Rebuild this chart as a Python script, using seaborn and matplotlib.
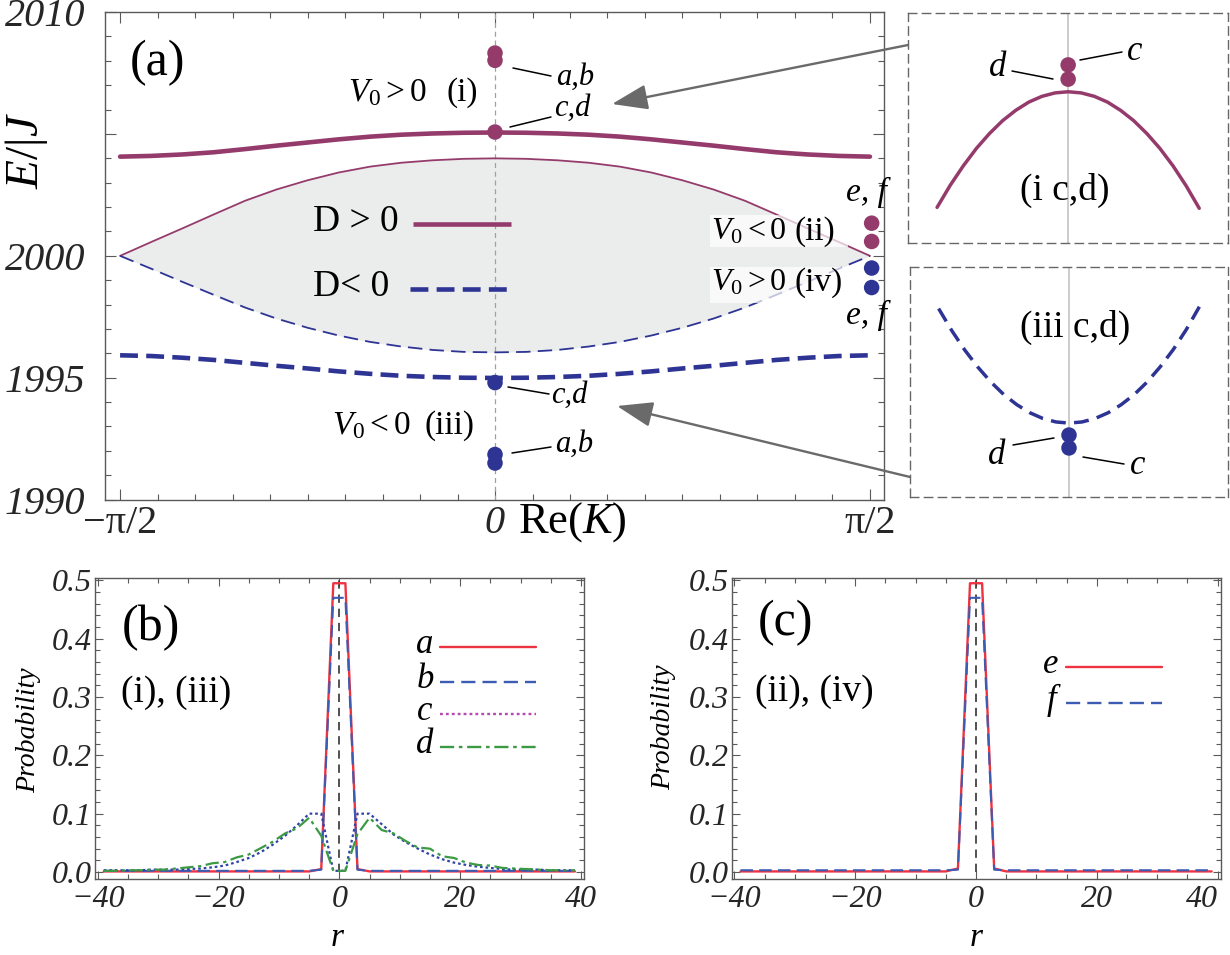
import numpy as np
import matplotlib
matplotlib.use("Agg")
import matplotlib.pyplot as plt
import seaborn as sns
from matplotlib.lines import Line2D
from matplotlib.patches import FancyArrowPatch, Rectangle
from matplotlib.ticker import MultipleLocator, FixedLocator

# ------------------------------------------------------------------ data
# panel (a): Re(K) grid in units of pi/24
K_STEPS = list(range(-12, 13))
THIN_UP = [2000.00, 2000.57, 2001.13, 2001.70, 2002.26, 2002.72, 2003.10, 2003.42, 2003.66,
           2003.82, 2003.92, 2003.98, 2004.00, 2003.98, 2003.92, 2003.82, 2003.66, 2003.42,
           2003.10, 2002.72, 2002.26, 2001.70, 2001.13, 2000.57, 2000.00]
THIN_LOW = [2000.00, 1999.47, 1998.93, 1998.40, 1997.88, 1997.43, 1997.05, 1996.73, 1996.47,
            1996.28, 1996.14, 1996.06, 1996.04, 1996.06, 1996.14, 1996.28, 1996.47, 1996.73,
            1997.05, 1997.43, 1997.88, 1998.40, 1998.93, 1999.47, 2000.00]
THICK_UP = [2004.07, 2004.10, 2004.16, 2004.25, 2004.38, 2004.52, 2004.65, 2004.78, 2004.89,
            2004.97, 2005.02, 2005.05, 2005.06, 2005.05, 2005.02, 2004.97, 2004.89, 2004.78,
            2004.65, 2004.52, 2004.38, 2004.25, 2004.16, 2004.10, 2004.07]
THICK_LOW = [1995.92, 1995.89, 1995.82, 1995.73, 1995.61, 1995.49, 1995.38, 1995.26, 1995.16,
             1995.08, 1995.03, 1995.00, 1994.99, 1995.00, 1995.03, 1995.08, 1995.16, 1995.26,
             1995.38, 1995.49, 1995.61, 1995.73, 1995.82, 1995.89, 1995.92]
AB_UP_E = [2008.32, 2008.02]
CD_UP_E = [2005.08]
CD_LOW_E = [1994.80]
AB_LOW_E = [1991.85, 1991.50]
EF_K = 1.578
EF_PURPLE_E = [2001.34, 2000.59]
EF_BLUE_E = [1999.50, 1998.70]
YTICKS_A = [1990, 1995, 2000, 2005, 2010]
YTICKLABELS_A = ["1990", "1995", "2000", "", "2010"]
XTICKLABELS_A = ["\u2212\u03c0/2", "0", "\u03c0/2"]

# insets (zoomed views around K = 0, local coordinates)
INSET_U = [-0.82, -0.738, -0.656, -0.574, -0.492, -0.41, -0.328, -0.246, -0.164, -0.082, 0.0,
           0.082, 0.164, 0.246, 0.328, 0.41, 0.492, 0.574, 0.656, 0.738, 0.82]
INSET_TOP_V = [0.154, 0.250, 0.335, 0.411, 0.476, 0.532, 0.577, 0.613, 0.638, 0.653, 0.658,
               0.653, 0.638, 0.613, 0.577, 0.532, 0.476, 0.411, 0.335, 0.248, 0.150]
INSET_BOT_V = [0.818, 0.723, 0.638, 0.564, 0.499, 0.444, 0.400, 0.365, 0.340, 0.325, 0.320,
               0.325, 0.340, 0.365, 0.400, 0.444, 0.499, 0.565, 0.640, 0.727, 0.826]
INSET_TOP_DOTS = [0.775, 0.713]   # c, d
INSET_BOT_DOTS = [0.268, 0.212]   # d, c

# panels (b), (c): relative coordinate r (odd sites)
R_SITES = list(range(-39, 40, 2))
PROB_A = [0.001, 0.001, 0.001, 0.001, 0.001, 0.001, 0.001, 0.001, 0.001, 0.001,
          0.001, 0.001, 0.001, 0.001, 0.001, 0.001, 0.001, 0.001, 0.005, 0.495,
          0.495, 0.005, 0.001, 0.001, 0.001, 0.001, 0.001, 0.001, 0.001, 0.001,
          0.001, 0.001, 0.001, 0.001, 0.001, 0.001, 0.001, 0.001, 0.001, 0.001]
PROB_B = [0.002, 0.002, 0.002, 0.002, 0.002, 0.002, 0.002, 0.002, 0.002, 0.002,
          0.002, 0.002, 0.002, 0.002, 0.002, 0.002, 0.002, 0.002, 0.004, 0.470,
          0.470, 0.004, 0.002, 0.002, 0.002, 0.002, 0.002, 0.002, 0.002, 0.002,
          0.002, 0.002, 0.002, 0.002, 0.002, 0.002, 0.002, 0.002, 0.002, 0.002]
PROB_C = [0.003, 0.003, 0.003, 0.003, 0.004, 0.004, 0.004, 0.005, 0.006, 0.008,
          0.011, 0.017, 0.024, 0.034, 0.047, 0.062, 0.080, 0.100, 0.100, 0.002,
          0.002, 0.100, 0.100, 0.082, 0.064, 0.051, 0.040, 0.030, 0.022, 0.016,
          0.012, 0.009, 0.007, 0.005, 0.004, 0.004, 0.004, 0.003, 0.003, 0.003]
PROB_D = [0.002, 0.002, 0.003, 0.003, 0.004, 0.004, 0.006, 0.008, 0.010, 0.015,
          0.017, 0.025, 0.030, 0.041, 0.052, 0.066, 0.075, 0.093, 0.062, 0.002,
          0.002, 0.065, 0.093, 0.072, 0.066, 0.053, 0.042, 0.040, 0.027, 0.024,
          0.016, 0.012, 0.011, 0.007, 0.006, 0.005, 0.004, 0.003, 0.003, 0.003]
PROB_E = [0.001, 0.001, 0.001, 0.001, 0.001, 0.001, 0.001, 0.001, 0.001, 0.001,
          0.001, 0.001, 0.001, 0.001, 0.001, 0.001, 0.001, 0.001, 0.006, 0.495,
          0.495, 0.006, 0.001, 0.001, 0.001, 0.001, 0.001, 0.001, 0.001, 0.001,
          0.001, 0.001, 0.001, 0.001, 0.001, 0.001, 0.001, 0.001, 0.001, 0.001]
PROB_F = [0.003, 0.003, 0.003, 0.003, 0.003, 0.003, 0.003, 0.003, 0.003, 0.003,
          0.003, 0.003, 0.003, 0.003, 0.003, 0.003, 0.003, 0.003, 0.004, 0.470,
          0.470, 0.004, 0.003, 0.003, 0.003, 0.003, 0.003, 0.003, 0.003, 0.003,
          0.003, 0.003, 0.003, 0.003, 0.003, 0.003, 0.003, 0.003, 0.003, 0.003]
XTICKS_R = [-40, -20, 0, 20, 40]
XTICKLABELS_R = ["\u221240", "\u221220", "0", "20", "40"]
YTICKS_P = [0.0, 0.1, 0.2, 0.3, 0.4, 0.5]
YTICKLABELS_P = ["0.0", "0.1", "0.2", "0.3", "0.4", "0.5"]

# ------------------------------------------------------------------ style
PURPLE = "#953b6c"
BLUE = "#2e3494"
FILL = "#ebecec"
RED = "#ee3340"
BLUE2 = "#3c5cb4"
MAGENTA = "#b648b0"
GREEN = "#3d9a44"
FRAME = "#5a5a5a"

sns.set_theme(style="white")
plt.rcParams["font.family"] = ["Liberation Serif", "DejaVu Serif"]
plt.rcParams["mathtext.fontset"] = "custom"
plt.rcParams["mathtext.rm"] = "Liberation Serif"
plt.rcParams["mathtext.it"] = "Liberation Serif:italic"
plt.rcParams["mathtext.bf"] = "Liberation Serif:bold"
plt.rcParams["axes.unicode_minus"] = True

W, H = 1230, 955
fig = plt.figure(figsize=(W / 100, H / 100), dpi=100)


def T(x, y, s, size, style="normal", ha="left", va="center", **kw):
    return fig.text(x / W, 1 - y / H, s, fontsize=size, fontstyle=style,
                    ha=ha, va=va, color=kw.pop("color", "black"), **kw)


def L(x1, y1, x2, y2, **kw):
    kw.setdefault("color", "black")
    kw.setdefault("lw", 1.1)
    fig.add_artist(Line2D([x1 / W, x2 / W], [1 - y1 / H, 1 - y2 / H],
                          transform=fig.transFigure, **kw))


def frame(ax, major=6, minor=3.5):
    ax.set_facecolor("white")
    ax.grid(False)
    for s in ax.spines.values():
        s.set_visible(True)
        s.set_color(FRAME)
        s.set_linewidth(1.0)
    ax.tick_params(which="both", direction="in", top=True, right=True, bottom=True,
                   left=True, color=FRAME, width=0.8)
    ax.tick_params(which="major", length=major)
    ax.tick_params(which="minor", length=minor)


# ------------------------------------------------------------------ panel (a)
ax = fig.add_axes([105 / W, 1 - 499.6 / H, (884.3 - 105) / W, (499.6 - 12.1) / H])
K = np.array(K_STEPS) * np.pi / 24
ax.fill_between(K, THIN_LOW, THIN_UP, color=FILL, lw=0, zorder=0)
ax.axvline(0, color="#a0a0a0", lw=0.9, ls=(0, (4, 3)), zorder=1)
sns.lineplot(x=K, y=THIN_UP, ax=ax, color=PURPLE, lw=1.3, zorder=2)
sns.lineplot(x=K, y=THIN_LOW, ax=ax, color=BLUE, lw=1.3, linestyle=(0, (8, 4)), zorder=2)
sns.lineplot(x=K, y=THICK_UP, ax=ax, color=PURPLE, lw=3.3, zorder=3)
sns.lineplot(x=K, y=THICK_LOW, ax=ax, color=BLUE, lw=3.3, linestyle=(0, (3.9, 1.8)), zorder=3)

dot = dict(s=125, edgecolor="none", zorder=5, ax=ax, legend=False)
sns.scatterplot(x=[0.0] * len(AB_UP_E), y=AB_UP_E, color=PURPLE, **dot)
sns.scatterplot(x=[0.0] * len(CD_UP_E), y=CD_UP_E, color=PURPLE, **dot)
sns.scatterplot(x=[0.0] * len(CD_LOW_E), y=CD_LOW_E, color=BLUE, **dot)
sns.scatterplot(x=[0.0] * len(AB_LOW_E), y=AB_LOW_E, color=BLUE, **dot)
sns.scatterplot(x=[EF_K] * len(EF_PURPLE_E), y=EF_PURPLE_E, color=PURPLE, **dot)
sns.scatterplot(x=[EF_K] * len(EF_BLUE_E), y=EF_BLUE_E, color=BLUE, **dot)

ax.set_xlim(-1.634, 1.631)
ax.set_ylim(1990, 2010)
frame(ax, major=8, minor=4.5)
ax.set_xticks([-np.pi / 2, 0, np.pi / 2])
ax.set_xticklabels(XTICKLABELS_A, fontsize=29)
ax.xaxis.set_minor_locator(FixedLocator(np.arange(-10, 11) * np.pi / 20))
ax.set_yticks(YTICKS_A)
ax.set_yticklabels(YTICKLABELS_A, fontsize=29, fontstyle="italic")
ax.yaxis.set_minor_locator(MultipleLocator(1))
ax.tick_params(axis="y", which="major", pad=14)
ax.tick_params(axis="x", which="major", pad=4)
ax.set_xlabel("")
ax.set_ylabel("")
ax.get_xticklabels()[1].set_fontstyle("italic")

# labels in (a)
T(157, 63, "(a)", 36, ha="center")
T(27, 151, r"$E/|J$", 34, ha="center", rotation=90)
T(572, 522, r"Re$(K)$", 32, ha="center")
T(348, 93, r"$V_0>0$", 24)
T(447, 93, "(i)", 24)
T(556, 77, "a,b", 22, "italic")
L(513, 68, 551, 76)
T(554, 108, "c,d", 22, "italic")
L(510, 127, 551, 117)
T(313, 222, "D > 0", 27)
L(413, 224, 511, 224, color=PURPLE, lw=3.3, solid_capstyle="butt")
T(313, 287, "D< 0", 27)
L(410, 289, 507, 289, color=BLUE, lw=3.3, ls=(0, (3.9, 1.8)), dash_capstyle="butt")
fig.add_artist(Rectangle((710 / W, 1 - 247 / H), 138 / W, 32 / H, transform=fig.transFigure,
                         facecolor="white", edgecolor="none", alpha=0.7))
fig.add_artist(Rectangle((710 / W, 1 - 303 / H), 142 / W, 36 / H, transform=fig.transFigure,
                         facecolor="white", edgecolor="none", alpha=0.7))
T(711, 232, r"$V_0<0$", 23)
T(794, 232, "(ii)", 24)
T(711, 283, r"$V_0>0$", 23)
T(795, 283, "(iv)", 24)
T(866, 192, "e, f", 24, "italic", ha="center")
T(866, 315, "e, f", 24, "italic", ha="center")
T(332, 426, r"$V_0<0$", 24)
T(425, 426, "(iii)", 24)
T(551, 395, "c,d", 22, "italic")
L(508, 387, 549, 394)
T(555, 444, "a,b", 22, "italic")
L(512, 453, 551, 447)

# ------------------------------------------------------------------ insets
def inset(rect_px, v, dots, color, ls):
    x0, y0, x1, y1 = rect_px
    ai = fig.add_axes([x0 / W, 1 - y1 / H, (x1 - x0) / W, (y1 - y0) / H])
    ai.set_facecolor("white")
    ai.grid(False)
    ai.set_xlim(-1, 1)
    ai.set_ylim(0, 1)
    ai.set_xticks([])
    ai.set_yticks([])
    for s in ai.spines.values():
        s.set_visible(True)
        s.set_color("#666666")
        s.set_linewidth(1.0)
        s.set_linestyle((0, (6, 4)))
    ai.axvline(0, color="#c4c4c4", lw=1.2, zorder=1)
    sns.lineplot(x=INSET_U, y=v, ax=ai, color=color, lw=2.5, linestyle=ls, zorder=3)
    sns.scatterplot(x=[0.0] * len(dots), y=dots, ax=ai, color=color, s=125,
                    edgecolor="none", zorder=5, legend=False)
    ai.set_xlabel("")
    ai.set_ylabel("")
    return ai


inset((908.3, 13.3, 1228, 242.7), INSET_TOP_V, INSET_TOP_DOTS, PURPLE, "-")
inset((910, 266.7, 1228, 496.7), INSET_BOT_V, INSET_BOT_DOTS, BLUE, (0, (4.3, 2.4)))
T(1065, 190, "(i c,d)", 27, ha="center")
T(1135, 52, "c", 25, "italic", ha="center")
L(1080, 60, 1122, 52)
T(998, 68, "d", 25, "italic", ha="center")
L(1012, 71, 1053, 79)
T(1075, 327, "(iii c,d)", 27, ha="center")
T(997, 455, "d", 25, "italic", ha="center")
L(1013, 445, 1054, 438)
T(1138, 465, "c", 25, "italic", ha="center")
L(1083, 457, 1124, 464)

for (xa, ya, xb, yb) in [(908, 45, 612, 104), (910, 477, 617, 406)]:
    fig.add_artist(FancyArrowPatch((xa / W, 1 - ya / H), (xb / W, 1 - yb / H),
                                   transform=fig.transFigure,
                                   arrowstyle="-|>,head_length=0.85,head_width=0.3",
                                   mutation_scale=26, color="#6a6a6a", lw=1.7,
                                   shrinkA=0, shrinkB=0))

# ------------------------------------------------------------------ panels (b), (c)
def prob_axes(left_px):
    a = fig.add_axes([left_px / W, 1 - 879 / H, 489 / W, 301 / H])
    a.set_xlim(-40.45, 40.5)
    a.set_ylim(-0.012, 0.504)
    a.vlines(0, 0, 0.5, color="#333333", lw=1.2, linestyles=[(0, (5, 3.5))], zorder=1)
    return a


def finish(a):
    frame(a, major=6, minor=3.5)
    a.set_xticks(XTICKS_R)
    a.set_xticklabels(XTICKLABELS_R, fontsize=23, fontstyle="italic")
    a.set_yticks(YTICKS_P)
    a.set_yticklabels(YTICKLABELS_P, fontsize=23, fontstyle="italic")
    a.xaxis.set_minor_locator(MultipleLocator(5))
    a.yaxis.set_minor_locator(MultipleLocator(0.02))
    a.tick_params(axis="y", which="major", pad=2)
    a.tick_params(axis="x", which="major", pad=4)
    a.set_xlabel("")
    a.set_ylabel("")


R = np.array(R_SITES)
axb = prob_axes(95)
sns.lineplot(x=R, y=PROB_A, ax=axb, color=RED, lw=1.7, zorder=3)
sns.lineplot(x=R, y=PROB_B, ax=axb, color=BLUE2, lw=1.5, linestyle=(0, (6, 3)), zorder=4)
sns.lineplot(x=R, y=PROB_C, ax=axb, color="#2f44a8", lw=1.6, linestyle=(0, (1.2, 1.3)), zorder=4)
sns.lineplot(x=R, y=PROB_D, ax=axb, color=GREEN, lw=1.6, linestyle=(0, (6, 2, 1.5, 2)), zorder=5)
finish(axb)

axc = prob_axes(731.7)
sns.lineplot(x=R, y=PROB_E, ax=axc, color=RED, lw=1.7, zorder=3)
sns.lineplot(x=R, y=PROB_F, ax=axc, color=BLUE2, lw=1.5, linestyle=(0, (6, 3)), zorder=4)
finish(axc)
# keep the last tick label of (c) inside the picture
axc.get_xticklabels()[-1].set_horizontalalignment("right")

T(151, 628, "(b)", 36, ha="center")
T(121, 693, "(i), (iii)", 27)
for (lab, yy, col, ls) in [("a", 647, RED, "-"), ("b", 682, BLUE2, (0, (6, 3))),
                           ("c", 714, MAGENTA, (0, (1.2, 1.3))),
                           ("d", 747, GREEN, (0, (6, 2, 1.5, 2)))]:
    T(425, yy - 3, lab, 25, "italic", ha="center")
    L(440, yy, 536, yy, color=col, lw=1.7, ls=ls)
T(29, 730, "Probability", 20, "italic", ha="center", rotation=90)
T(337, 938, "r", 24, "italic", ha="center")

T(785, 623, "(c)", 36, ha="center")
T(755, 692, "(ii), (iv)", 27)
for (lab, yy, col, ls) in [("e", 667, RED, "-"), ("f", 703, BLUE2, (0, (6, 3)))]:
    T(1051, yy - 3, lab, 25, "italic", ha="center")
    L(1066, yy, 1162, yy, color=col, lw=1.7, ls=ls)
T(664, 727, "Probability", 20, "italic", ha="center", rotation=90)
T(976, 938, "r", 24, "italic", ha="center")

fig.savefig("out.png", dpi=100, facecolor="white")
